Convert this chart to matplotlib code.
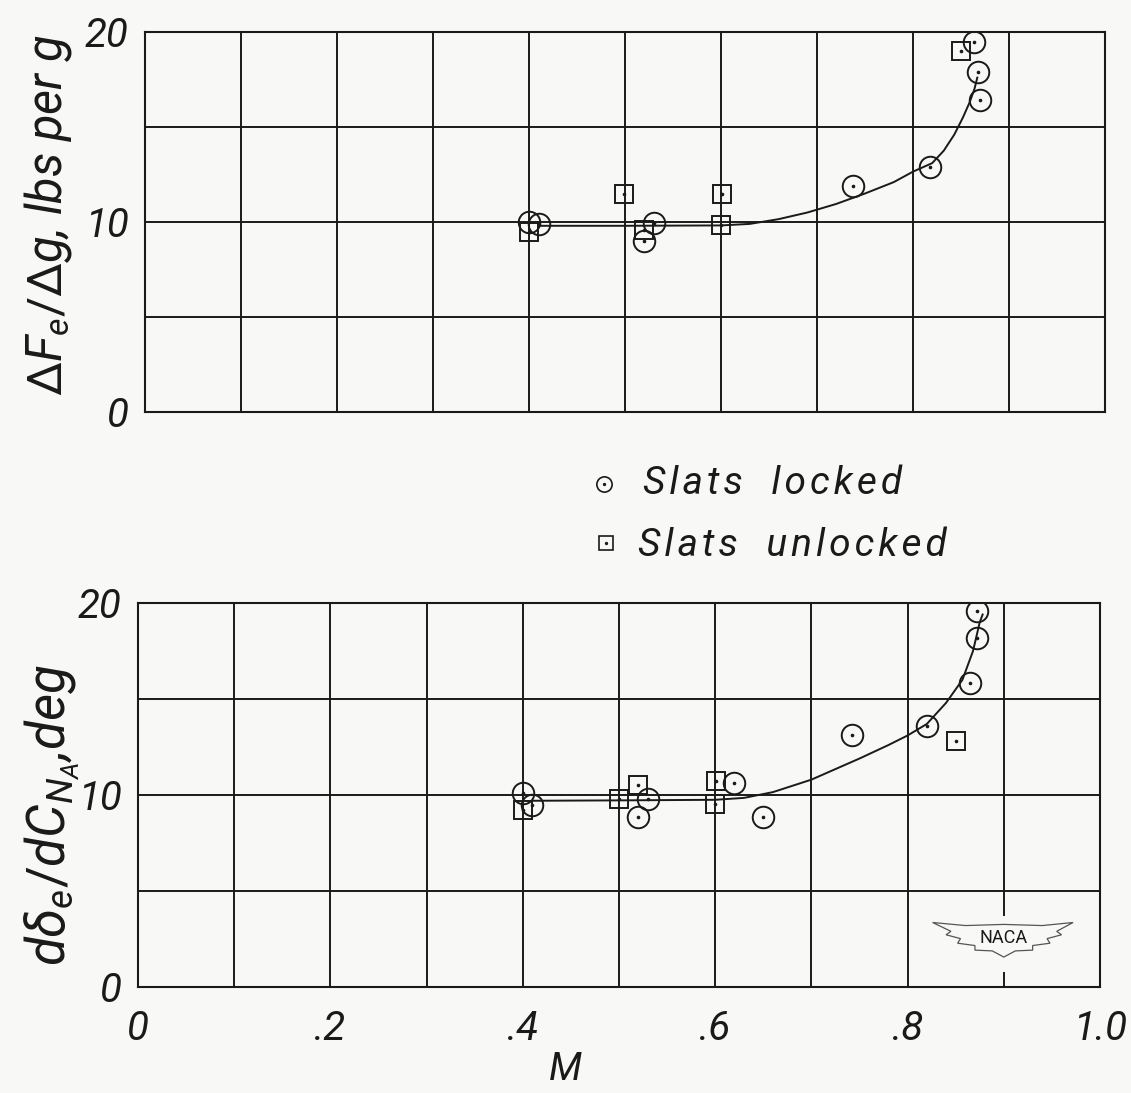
import matplotlib
matplotlib.use("Agg")
import matplotlib.pyplot as plt
from matplotlib.patches import Rectangle, Polygon

plt.rcParams['font.family'] = ['Roboto', 'DejaVu Sans']
plt.rcParams['mathtext.fontset'] = 'custom'
plt.rcParams['mathtext.it'] = 'Roboto:italic'
plt.rcParams['mathtext.rm'] = 'Roboto'

INK = '#1a1a1a'
PAPER = '#f8f8f6'
LETTERING = dict(fontstyle='italic', fontweight='normal', color=INK)

# ---- Stick-force gradient, lbs per g ----
force_locked_M = [0.400, 0.410, 0.530, 0.520, 0.738, 0.818, 0.870, 0.868, 0.864]
force_locked_val = [10.0, 9.9, 9.95, 9.0, 11.9, 12.9, 16.4, 17.9, 19.5]
force_unlocked_M = [0.400, 0.499, 0.520, 0.601, 0.600, 0.850]
force_unlocked_val = [9.5, 11.45, 9.6, 11.45, 9.85, 19.0]
force_fair_M = [0.41, 0.50, 0.60, 0.63, 0.66, 0.69, 0.72, 0.75, 0.78, 0.80,
                0.82, 0.832, 0.843, 0.852, 0.859, 0.864, 0.867]
force_fair_val = [9.8, 9.8, 9.82, 9.9, 10.15, 10.5, 10.95, 11.5, 12.1, 12.65,
                  13.1, 13.75, 14.6, 15.5, 16.3, 17.0, 17.6]

# ---- Elevator angle per normal-force coefficient, deg ----
elev_locked_M = [0.400, 0.410, 0.530, 0.520, 0.620, 0.650, 0.742, 0.820, 0.865, 0.872, 0.872]
elev_locked_val = [10.1, 9.5, 9.8, 8.85, 10.65, 8.85, 13.1, 13.6, 15.85, 18.2, 19.6]
elev_unlocked_M = [0.400, 0.500, 0.520, 0.601, 0.600, 0.850]
elev_unlocked_val = [9.2, 9.8, 10.5, 10.75, 9.55, 12.8]
elev_fair_M = [0.41, 0.50, 0.60, 0.63, 0.66, 0.70, 0.75, 0.78, 0.80, 0.82,
               0.84, 0.857, 0.868, 0.875, 0.878]
elev_fair_val = [9.7, 9.72, 9.75, 9.85, 10.15, 10.8, 11.9, 12.6, 13.1, 13.7,
                 14.8, 16.0, 17.5, 19.0, 19.4]

x_major = [0, 0.2, 0.4, 0.6, 0.8, 1.0]
x_minor = [0.1, 0.3, 0.5, 0.7, 0.9]
x_labels = ['0', '.2', '.4', '.6', '.8', '1.0']
y_major = [0, 10, 20]
y_minor = [5, 15]
y_labels = ['0', '10', '20']

W, H = 1131, 1093
fig = plt.figure(figsize=(W / 100, H / 100), dpi=100, facecolor=PAPER)


def px_axes(left, right, top, bottom):
    return fig.add_axes([left / W, 1 - bottom / H, (right - left) / W, (bottom - top) / H])


ax_top = px_axes(145, 1105, 32, 412)
ax_bot = px_axes(138, 1100, 603, 987)


def style_axes(ax, show_xlabels):
    ax.set_facecolor(PAPER)
    ax.set_xlim(0, 1.0)
    ax.set_ylim(0, 20)
    ax.set_xticks(x_major)
    ax.set_xticks(x_minor, minor=True)
    ax.set_yticks(y_major)
    ax.set_yticks(y_minor, minor=True)
    ax.set_yticklabels(y_labels, fontsize=29, **LETTERING)
    if show_xlabels:
        ax.set_xticklabels(x_labels, fontsize=29, **LETTERING)
    else:
        ax.set_xticklabels([])
    ax.tick_params(which='both', length=0)
    ax.tick_params(axis='y', pad=12)
    ax.tick_params(axis='x', pad=16)
    ax.grid(True, which='both', color=INK, linewidth=1.4)
    ax.set_axisbelow(True)
    for s in ax.spines.values():
        s.set_color(INK)
        s.set_linewidth(1.5)


def plot_points(ax, lm, lv, um, uv, fm, fv):
    ax.plot(fm, fv, color=INK, linewidth=1.4, zorder=3)
    ax.plot(lm, lv, linestyle='none', marker='o', markersize=15.5,
            markerfacecolor='none', markeredgecolor=INK, markeredgewidth=1.4, zorder=4)
    ax.plot(um, uv, linestyle='none', marker='s', markersize=13,
            markerfacecolor='none', markeredgecolor=INK, markeredgewidth=1.4, zorder=4)
    ax.plot(lm + um, lv + uv, linestyle='none', marker='o', markersize=1.6,
            color=INK, zorder=5)


style_axes(ax_top, False)
style_axes(ax_bot, True)
plot_points(ax_top, force_locked_M, force_locked_val, force_unlocked_M,
            force_unlocked_val, force_fair_M, force_fair_val)
plot_points(ax_bot, elev_locked_M, elev_locked_val, elev_unlocked_M,
            elev_unlocked_val, elev_fair_M, elev_fair_val)

# Axis titles
fig.text(48 / W, 1 - 215 / H, r'$\Delta F_e/\Delta g$, lbs per g', rotation=90,
         ha='center', va='center', fontsize=35, **LETTERING)
fig.text(52 / W, 1 - 815 / H, r'$d\delta_e/dC_{N_A}$,deg', rotation=90,
         ha='center', va='center', fontsize=38, **LETTERING)
fig.text(565 / W, 1 - 1069 / H, 'M', ha='center', va='center',
         fontsize=28, **LETTERING)

# Legend between the panels
leg = fig.add_axes([0, 0, 1, 1], facecolor='none')
leg.set_xlim(0, W)
leg.set_ylim(H, 0)
leg.axis('off')
leg.plot([604], [484], marker='o', markersize=11, markerfacecolor='none',
         markeredgecolor=INK, markeredgewidth=1.2)
leg.plot([604], [484], marker='o', markersize=1.4, color=INK)
leg.plot([606], [543], marker='s', markersize=10, markerfacecolor='none',
         markeredgecolor=INK, markeredgewidth=1.2)
leg.plot([606], [543], marker='o', markersize=1.4, color=INK)
hs = '\u200a'
leg.text(643, 484, hs.join('Slats') + '   ' + hs.join('locked'), ha='left', va='center',
         fontsize=28, **LETTERING)
leg.text(638, 546, hs.join('Slats') + '   ' + hs.join('unlocked'), ha='left', va='center',
         fontsize=28, **LETTERING)

# NACA wing emblem in the lower panel corner
ax_bot.add_patch(Rectangle((0.825, 0.04), 0.15, 0.145, transform=ax_bot.transAxes,
                           facecolor=PAPER, edgecolor='none', zorder=2))
wing = [(0.826, 0.168), (0.86, 0.160), (0.90, 0.163), (0.94, 0.160), (0.972, 0.168),
        (0.955, 0.145), (0.960, 0.136), (0.945, 0.126), (0.948, 0.114), (0.930, 0.108),
        (0.930, 0.096), (0.912, 0.094), (0.900, 0.078), (0.888, 0.094), (0.870, 0.096),
        (0.870, 0.108), (0.852, 0.114), (0.855, 0.126), (0.840, 0.136), (0.845, 0.145)]
ax_bot.add_patch(Polygon(wing, closed=True, transform=ax_bot.transAxes,
                         facecolor=PAPER, edgecolor='#555555', linewidth=0.9, zorder=3))
ax_bot.text(0.900, 0.128, 'NACA', transform=ax_bot.transAxes, ha='center', va='center',
            fontsize=13, color=INK, zorder=4)

fig.savefig('out.png', dpi=100, facecolor=PAPER)
